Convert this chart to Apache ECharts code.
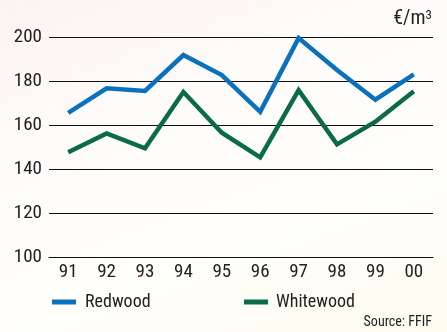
<!DOCTYPE html>
<html><head><meta charset="utf-8">
<script src="https://cdn.jsdelivr.net/npm/echarts@6/dist/echarts.min.js"></script>
<style>
html,body{margin:0;padding:0;}
body{background:linear-gradient(160deg,#fbf3f1 0%,#fefcfa 35%,#fffefa 65%,#fefbef 100%);}
#c{width:447px;height:332px;}
</style></head><body>
<div id="c"></div>
<script>
const categories = ['91','92','93','94','95','96','97','98','99','00'];
const redwood = [165.5, 176.7, 175.5, 191.8, 182.7, 166, 199.5, 185, 171.5, 183];
const whitewood = [147.6, 156.2, 149.4, 175, 156.5, 145.3, 175.8, 151.2, 161.5, 175.3];
const yTicks = [100, 120, 140, 160, 180, 200];
const FONT = '"Roboto Condensed",sans-serif';
const chart = echarts.init(document.getElementById('c'));
chart.setOption({
  animation:false,
  backgroundColor:'transparent',
  grid:{left:49,right:14,top:37,bottom:75},
  xAxis:{type:'category',data:categories,boundaryGap:true,
    axisLine:{lineStyle:{color:'#111',width:1}},
    axisTick:{inside:true,length:4,lineStyle:{color:'#111'}},
    axisLabel:{color:'#222',fontFamily:FONT,fontSize:19,margin:6}},
  yAxis:{type:'value',min:yTicks[0],max:yTicks[yTicks.length-1],interval:20,
    axisLine:{show:false},axisTick:{show:false},
    splitLine:{lineStyle:{color:'#111',width:1}},
    axisLabel:{color:'#222',fontFamily:FONT,fontSize:19,margin:7}},
  legend:[
    {left:47,top:288,icon:'rect',itemWidth:24,itemHeight:5,itemGap:10,data:['Redwood'],
     textStyle:{fontFamily:FONT,fontSize:18,color:'#222',padding:[0,0,0,4]}},
    {left:239,top:288,icon:'rect',itemWidth:24,itemHeight:5,data:['Whitewood'],
     textStyle:{fontFamily:FONT,fontSize:18,color:'#222',padding:[0,0,0,3]}}
  ],
  graphic:[
    {type:'text',right:15,top:9,style:{text:'€/m{s|3}',rich:{s:{fontSize:13,verticalAlign:'top',fontFamily:FONT,fill:'#222'}},fontFamily:FONT,fontSize:20,fill:'#222'}},
    {type:'text',right:15,top:315,style:{text:'Source: FFIF',fontFamily:FONT,fontSize:14,fill:'#222'}}
  ],
  series:[
    {name:'Redwood',type:'line',data:redwood,symbol:'none',lineStyle:{width:4.5,color:'#0a72bd',join:'miter'},itemStyle:{color:'#0a72bd'}},
    {name:'Whitewood',type:'line',data:whitewood,symbol:'none',lineStyle:{width:4.5,color:'#0b6a48',join:'miter'},itemStyle:{color:'#0b6a48'}}
  ]
});
</script></body></html>
